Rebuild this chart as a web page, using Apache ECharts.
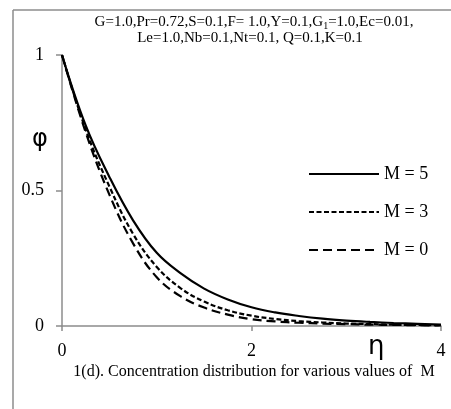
<!DOCTYPE html>
<html>
<head>
<meta charset="utf-8">
<script src="https://cdn.jsdelivr.net/npm/echarts@6/dist/echarts.min.js"></script>
<style>html,body{margin:0;padding:0;background:#fff}#c{width:451px;height:409px}</style>
</head>
<body>
<div id="c"></div>
<script>
const eta = [0, 0.25, 0.5, 0.75, 1.0, 1.25, 1.5, 1.75, 2.0, 2.25, 2.5, 2.75, 3.0, 3.25, 3.5, 3.75, 4.0];
const phiM5 = [1, 0.74, 0.55, 0.39, 0.27, 0.195, 0.138, 0.098, 0.069, 0.05, 0.037, 0.027, 0.02, 0.015, 0.011, 0.008, 0.005];
const phiM3 = [1, 0.725, 0.515, 0.34, 0.218, 0.14, 0.09, 0.058, 0.038, 0.026, 0.018, 0.013, 0.009, 0.007, 0.005, 0.004, 0.003];
const phiM0 = [1, 0.715, 0.485, 0.305, 0.18, 0.11, 0.068, 0.042, 0.025, 0.017, 0.012, 0.009, 0.007, 0.005, 0.004, 0.003, 0.002];
const seriesNames = ['M = 5', 'M = 3', 'M = 0'];
const xTicks = [0, 2, 4];
const yTicks = [0, 0.5, 1];
const paramLine1 = 'G=1.0,Pr=0.72,S=0.1,F= 1.0,Y=0.1,G{sub|1}=1.0,Ec=0.01,';
const paramLine2 = 'Le=1.0,Nb=0.1,Nt=0.1, Q=0.1,K=0.1';
const caption = '1(d). Concentration distribution for various values of  M';

const serif = '"Liberation Serif", "Times New Roman", serif';
const pair = (ys) => eta.map((x, i) => [x, ys[i]]);
const chart = echarts.init(document.getElementById('c'), null, {renderer: 'canvas'});
chart.setOption({
  animation: false,
  backgroundColor: '#fff',
  grid: {left: 62, right: 10, top: 55, bottom: 83, containLabel: false},
  xAxis: {
    type: 'value', min: 0, max: 4, interval: 2,
    axisLine: {show: true, lineStyle: {color: '#8c8c8c', width: 1.5}},
    axisTick: {show: true, length: 5, lineStyle: {color: '#8c8c8c', width: 1.5}},
    axisLabel: {color: '#000', fontFamily: serif, fontSize: 18, margin: 16,
      formatter: v => xTicks.includes(v) ? String(v) : ''},
    splitLine: {show: false}
  },
  yAxis: {
    type: 'value', min: 0, max: 1, interval: 0.5,
    axisLine: {show: true, lineStyle: {color: '#8c8c8c', width: 1.5}},
    axisTick: {show: true, length: 6, lineStyle: {color: '#8c8c8c', width: 1.5}},
    axisLabel: {color: '#000', fontFamily: serif, fontSize: 18, margin: 18,
      formatter: v => yTicks.includes(v) ? String(v) : ''},
    splitLine: {show: false}
  },
  legend: {
    show: true, padding: 0,
    orient: 'vertical', left: 308, top: 165, itemWidth: 70, itemHeight: 20, itemGap: 20,
    itemStyle: {opacity: 0, borderWidth: 0},
    textStyle: {color: '#000', fontFamily: serif, fontSize: 18},
    data: seriesNames
  },
  series: [
    {name: seriesNames[0], type: 'line', data: pair(phiM5), smooth: 0.4, symbol: 'none', showSymbol: false,
     lineStyle: {color: '#000', width: 2.2, type: 'solid'}, itemStyle: {color: '#000'}},
    {name: seriesNames[1], type: 'line', data: pair(phiM3), smooth: 0.4, symbol: 'none', showSymbol: false,
     lineStyle: {color: '#000', width: 2.2, type: [5, 2.5]}, itemStyle: {color: '#000'}},
    {name: seriesNames[2], type: 'line', data: pair(phiM0), smooth: 0.4, symbol: 'none', showSymbol: false,
     lineStyle: {color: '#000', width: 2.2, type: [9, 5]}, itemStyle: {color: '#000'}}
  ],
  graphic: [
    {type: 'line', shape: {x1: 13, y1: 10, x2: 451, y2: 10}, style: {stroke: '#8c8c8c', lineWidth: 1.5}},
    {type: 'line', shape: {x1: 13, y1: 10, x2: 13, y2: 409}, style: {stroke: '#8c8c8c', lineWidth: 1.5}},
    {type: 'text', x: 254, y: 14, style: {
      text: paramLine1, align: 'center', fontFamily: serif, fontSize: 15, fill: '#000',
      rich: {sub: {fontSize: 10, fontFamily: serif, padding: [7, 0, 0, 0]}}
    }},
    {type: 'text', x: 250, y: 31, style: {
      text: paramLine2, align: 'center', fontFamily: serif, fontSize: 15, fill: '#000'
    }},
    {type: 'text', left: 368, top: 334, style: {text: 'η', fontFamily: '"DejaVu Sans", sans-serif', fontSize: 26, fill: '#000'}},
    {type: 'text', left: 32, top: 128, style: {text: 'φ', fontFamily: '"DejaVu Sans", sans-serif', fontSize: 24, fill: '#000'}},
    {type: 'text', x: 254, y: 364, style: {text: caption, align: 'center', fontFamily: serif, fontSize: 16, fill: '#000'}}
  ]
});
</script>
</body>
</html>
